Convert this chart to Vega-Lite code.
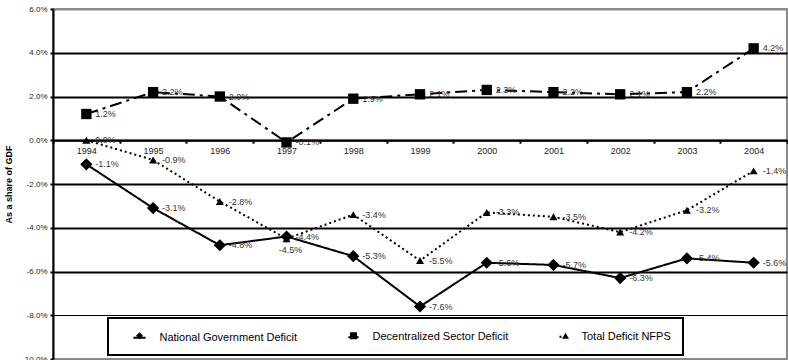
{
  "$schema": "https://vega.github.io/schema/vega-lite/v6.json",
  "width": 734,
  "height": 350,
  "autosize": {"type": "none"},
  "padding": {"left": 53, "top": 9, "right": 1, "bottom": 1},
  "background": "white",
  "config": {
    "locale": {
      "number": {"decimal": ".", "thousands": ",", "grouping": [3], "currency": ["$", ""], "minus": "-"}
    },
    "view": {"stroke": "#8a8a8a", "strokeWidth": 2},
    "font": "Liberation Sans",
    "axis": {"labelFont": "Liberation Sans", "titleFont": "Liberation Sans"},
    "legend": {"strokeWidth": 2}
  },
  "data": {
    "values": [
      {"series": "National Government Deficit", "year": "1994", "value": -0.011},
      {"series": "National Government Deficit", "year": "1995", "value": -0.031},
      {"series": "National Government Deficit", "year": "1996", "value": -0.048},
      {"series": "National Government Deficit", "year": "1997", "value": -0.044},
      {"series": "National Government Deficit", "year": "1998", "value": -0.053},
      {"series": "National Government Deficit", "year": "1999", "value": -0.076},
      {"series": "National Government Deficit", "year": "2000", "value": -0.056},
      {"series": "National Government Deficit", "year": "2001", "value": -0.057},
      {"series": "National Government Deficit", "year": "2002", "value": -0.063},
      {"series": "National Government Deficit", "year": "2003", "value": -0.054},
      {"series": "National Government Deficit", "year": "2004", "value": -0.056},
      {"series": "Decentralized Sector Deficit", "year": "1994", "value": 0.012},
      {"series": "Decentralized Sector Deficit", "year": "1995", "value": 0.022},
      {"series": "Decentralized Sector Deficit", "year": "1996", "value": 0.020},
      {"series": "Decentralized Sector Deficit", "year": "1997", "value": -0.001},
      {"series": "Decentralized Sector Deficit", "year": "1998", "value": 0.019},
      {"series": "Decentralized Sector Deficit", "year": "1999", "value": 0.021},
      {"series": "Decentralized Sector Deficit", "year": "2000", "value": 0.023},
      {"series": "Decentralized Sector Deficit", "year": "2001", "value": 0.022},
      {"series": "Decentralized Sector Deficit", "year": "2002", "value": 0.021},
      {"series": "Decentralized Sector Deficit", "year": "2003", "value": 0.022},
      {"series": "Decentralized Sector Deficit", "year": "2004", "value": 0.042},
      {"series": "Total Deficit NFPS", "year": "1994", "value": 0.000},
      {"series": "Total Deficit NFPS", "year": "1995", "value": -0.009},
      {"series": "Total Deficit NFPS", "year": "1996", "value": -0.028},
      {"series": "Total Deficit NFPS", "year": "1997", "value": -0.045},
      {"series": "Total Deficit NFPS", "year": "1998", "value": -0.034},
      {"series": "Total Deficit NFPS", "year": "1999", "value": -0.055},
      {"series": "Total Deficit NFPS", "year": "2000", "value": -0.033},
      {"series": "Total Deficit NFPS", "year": "2001", "value": -0.035},
      {"series": "Total Deficit NFPS", "year": "2002", "value": -0.042},
      {"series": "Total Deficit NFPS", "year": "2003", "value": -0.032},
      {"series": "Total Deficit NFPS", "year": "2004", "value": -0.014}
    ]
  },
  "encoding": {
    "x": {
      "field": "year",
      "type": "ordinal",
      "scale": {"type": "band", "paddingInner": 0, "paddingOuter": 0},
      "axis": {
        "orient": "bottom",
        "offset": -218.75,
        "title": null,
        "labelAngle": 0,
        "labelFontSize": 9,
        "labelColor": "#222222",
        "labelPadding": 3,
        "domain": true,
        "domainColor": "black",
        "domainWidth": 2,
        "ticks": true,
        "tickBand": "extent",
        "tickColor": "black",
        "tickWidth": 2,
        "tickSize": 3,
        "grid": false
      }
    },
    "y": {
      "field": "value",
      "type": "quantitative",
      "scale": {"domain": [-0.1, 0.06], "nice": false, "zero": false},
      "axis": {
        "values": [-0.1, -0.08, -0.06, -0.04, -0.02, 0, 0.02, 0.04, 0.06],
        "format": ".1%",
        "title": "As a share of GDF",
        "titleFontSize": 9,
        "titleFontWeight": "bold",
        "titleColor": "black",
        "titlePadding": 8,
        "labelFontSize": 8,
        "labelColor": "#222222",
        "labelPadding": 3,
        "domainColor": "black",
        "domainWidth": 2,
        "tickColor": "black",
        "tickWidth": 2,
        "tickSize": 3,
        "grid": true,
        "gridColor": {
          "condition": {"test": "datum.value === 0.06 || datum.value === -0.1", "value": "#8a8a8a"},
          "value": "black"
        },
        "gridWidth": {
          "condition": {"test": "datum.value === -0.08", "value": 1},
          "value": 2
        }
      }
    }
  },
  "layer": [
    {
      "mark": {"type": "line", "color": "black", "strokeWidth": 2},
      "encoding": {
        "strokeDash": {
          "field": "series",
          "type": "nominal",
          "scale": {
            "domain": ["National Government Deficit", "Decentralized Sector Deficit", "Total Deficit NFPS"],
            "range": [[1, 0], [12, 5, 3, 5], [2, 3]]
          },
          "legend": {
            "title": null,
            "orient": "none",
            "legendX": 55,
            "legendY": 309,
            "direction": "horizontal",
            "symbolType": "stroke",
            "symbolSize": 64,
            "symbolOffset": 12,
            "symbolStrokeWidth": 2,
            "symbolStrokeColor": "black",
            "labelFont": "Liberation Sans",
            "labelFontSize": 11,
            "labelColor": "black",
            "labelOffset": 12.5,
            "labelLimit": 300,
            "columnPadding": 37,
            "padding": 12,
            "strokeColor": "black",
            "encoding": {
              "symbols": {
                "size": {"value": 1225},
                "strokeWidth": {"value": 2}
              }
            }
          }
        }
      }
    },
    {
      "mark": {"type": "point", "filled": true, "color": "black", "opacity": 1},
      "encoding": {
        "shape": {
          "field": "series",
          "type": "nominal",
          "sort": ["National Government Deficit", "Decentralized Sector Deficit", "Total Deficit NFPS"],
          "scale": {"range": ["diamond", "square", "triangle-up"]},
          "legend": {
            "title": null,
            "orient": "none",
            "legendX": 69,
            "legendY": 309,
            "direction": "horizontal",
            "symbolSize": 49,
            "symbolStrokeWidth": 0,
            "symbolFillColor": "black",
            "symbolOpacity": 1,
            "labelFont": "Liberation Sans",
            "labelFontSize": 11,
            "labelOpacity": 0,
            "labelOffset": 27.5,
            "labelLimit": 300,
            "columnPadding": 37,
            "padding": 12
          }
        },
        "size": {
          "field": "series",
          "type": "nominal",
          "scale": {
            "domain": ["National Government Deficit", "Decentralized Sector Deficit", "Total Deficit NFPS"],
            "range": [150, 64, 50]
          },
          "legend": null
        }
      }
    },
    {
      "transform": [{"filter": "!(datum.series === 'Total Deficit NFPS' && datum.year === '1997')"}],
      "mark": {"type": "text", "align": "left", "baseline": "middle", "dx": 9, "fontSize": 9, "font": "Liberation Sans", "color": "#333333"},
      "encoding": {
        "text": {"field": "value", "type": "quantitative", "format": ".1%"}
      }
    },
    {
      "transform": [{"filter": "datum.series === 'Total Deficit NFPS' && datum.year === '1997'"}],
      "mark": {"type": "text", "align": "center", "baseline": "middle", "dx": 4, "dy": 11, "fontSize": 9, "font": "Liberation Sans", "color": "#333333"},
      "encoding": {
        "text": {"field": "value", "type": "quantitative", "format": ".1%"}
      }
    }
  ]
}
